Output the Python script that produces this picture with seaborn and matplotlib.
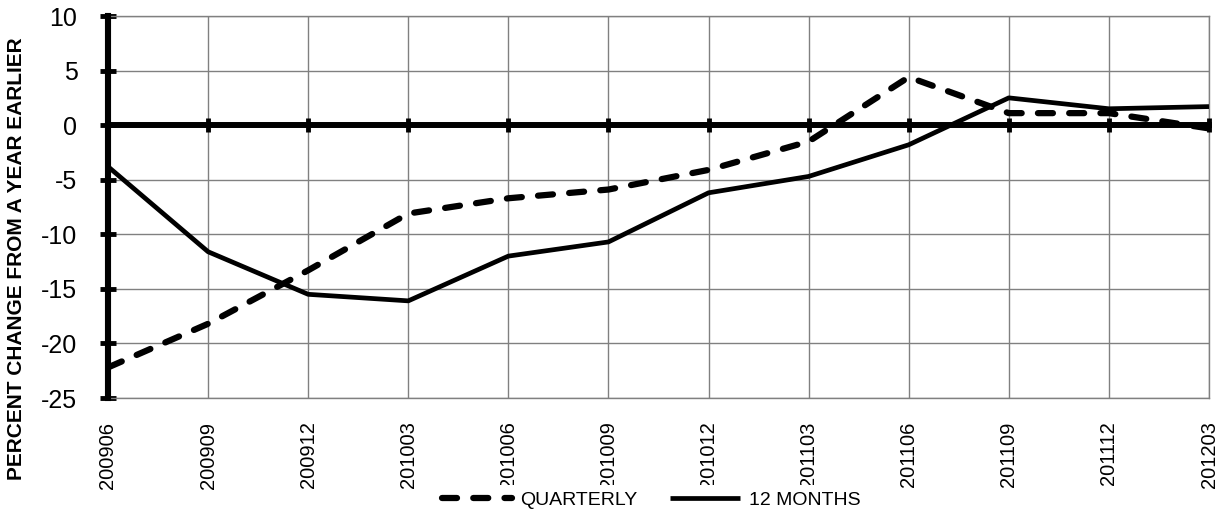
import numpy as np
import pandas as pd
import matplotlib
matplotlib.use("Agg")
import matplotlib.pyplot as plt
import seaborn as sns

# ---------------- data ----------------
quarters = ["200906", "200909", "200912", "201003", "201006", "201009",
            "201012", "201103", "201106", "201109", "201112", "201203"]
quarterly = [-22.2, -18.2, -13.3, -8.1, -6.7, -5.9, -4.1, -1.5, 4.4, 1.1, 1.1, -0.3]
twelve_months = [-3.8, -11.6, -15.5, -16.1, -12.0, -10.7, -6.2, -4.7, -1.8, 2.5, 1.5, 1.7]
series_names = ["QUARTERLY", "12 MONTHS"]
y_ticks = [-25, -20, -15, -10, -5, 0, 5, 10]
y_label = "PERCENT CHANGE FROM A YEAR EARLIER"

# ---------------- style ----------------
sns.set_theme(style="white")
plt.rcParams["font.family"] = ["Liberation Sans", "DejaVu Sans"]

W, H = 1225, 513
fig = plt.figure(figsize=(W / 100, H / 100), dpi=100)
ax = fig.add_axes([108 / W, 1 - 398 / H, 1101 / W, 382 / H])

pos = np.arange(len(quarters))

# 12 months (solid)
sns.lineplot(x=pos, y=twelve_months, ax=ax, color="black", linewidth=3.4,
             zorder=5, label=series_names[1], legend=False)
ln_t = ax.lines[-1]
ln_t.set_solid_capstyle("butt")

# quarterly (dashed)
sns.lineplot(x=pos, y=quarterly, ax=ax, color="black", linewidth=4.5,
             zorder=6, label=series_names[0], legend=False)
ln_q = ax.lines[-1]
ln_q.set_linestyle((0, (2.4, 2.6)))
ln_q.set_dash_capstyle("round")

ax.set_xlim(pos[0], pos[-1])
ax.set_ylim(y_ticks[0], y_ticks[-1])
ax.set_xticks(pos)
ax.set_xticklabels(quarters)
ax.set_yticks(y_ticks)
ax.set_yticklabels([str(t) for t in y_ticks])

# grid
ax.grid(True, color="#808080", linewidth=1.0)
ax.set_axisbelow(True)

# spines
for s in ["top", "right", "bottom"]:
    ax.spines[s].set_color("#808080")
    ax.spines[s].set_linewidth(1.0)
    ax.spines[s].set_visible(True)
ax.spines["left"].set_color("black")
ax.spines["left"].set_linewidth(4.4)
ax.spines["left"].set_zorder(7)

ax.tick_params(axis="x", length=0, pad=17, labelsize=14.5, labelrotation=90,
               colors="black")
ax.tick_params(axis="y", direction="inout", length=11, width=3.5, pad=16.5,
               labelsize=18, color="black", labelcolor="black", left=True)

ax.set_xlabel("")
ax.set_ylabel(y_label, fontsize=15, fontweight="bold", color="black")
ax.yaxis.set_label_coords(-0.0745, 0.365)

# zero (category) axis crossing at 0
zero_loc = (0 - y_ticks[0]) / (y_ticks[-1] - y_ticks[0])
sec = ax.secondary_xaxis(zero_loc)
sec.set_xticks(pos)
sec.tick_params(axis="x", direction="inout", length=9.5, width=3.5,
                labeltop=False, labelbottom=False, color="black")
for s in sec.spines.values():
    s.set_color("black")
    s.set_linewidth(4.3)
sec.set_zorder(4)

# legend
leg = fig.legend(handles=[ln_q, ln_t], labels=series_names, loc="center",
                 bbox_to_anchor=(651 / W, 1 - 500 / H), ncol=2, frameon=True,
                 facecolor="white", edgecolor="none", framealpha=1,
                 fontsize=14, handlelength=3.6, handletextpad=0.45,
                 columnspacing=1.65, borderpad=0.3)
for t in leg.get_texts():
    t.set_color("black")

fig.savefig("out.png", dpi=100, facecolor="white")
